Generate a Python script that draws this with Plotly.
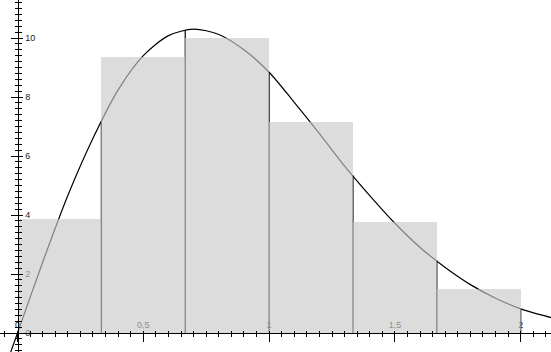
import plotly.graph_objects as go

# ---- data ----
bin_left = [0.0, 1/3, 2/3, 1.0, 4/3, 5/3]
bin_width = 1/3
bar_heights = [3.86, 9.36, 10.0, 7.15, 3.76, 1.50]

edge_x = [1/3, 2/3, 1.0, 4/3, 5/3, 2.0]
edge_heights = [7.15, 10.27, 8.84, 5.35, 2.46, 0.82]

curve_x = [-0.05, 0.0, 0.1, 0.2, 0.3, 0.4, 0.5, 0.6, 0.7, 0.8, 0.9, 1.0,
           1.1, 1.2, 1.3, 1.4, 1.5, 1.6, 1.7, 1.8, 1.9, 2.0, 2.1, 2.15]
curve_y = [-1.20, 0.0, 2.40, 4.66, 6.60, 8.24, 9.40, 10.08, 10.30, 10.12, 9.60, 8.84,
           7.82, 6.76, 5.66, 4.66, 3.72, 2.90, 2.22, 1.64, 1.18, 0.82, 0.57, 0.46]

x_range = [-0.0696, 2.1204]
y_range = [-0.644, 11.288]

W, H = 551, 352
x_axis_pos = (0 - y_range[0]) / (y_range[1] - y_range[0])
y_axis_pos = (0 - x_range[0]) / (x_range[1] - x_range[0])

# vertical segments at bin edges, from 0 up to the curve
seg_x, seg_y = [], []
for ex, eh in zip(edge_x, edge_heights):
    seg_x += [ex, ex, None]
    seg_y += [0, eh, None]

fig = go.Figure()
fig.add_trace(go.Scatter(x=seg_x, y=seg_y, mode="lines",
                         line=dict(color="black", width=1.2),
                         hoverinfo="skip", showlegend=False))
fig.add_trace(go.Scatter(x=curve_x, y=curve_y, mode="lines",
                         line=dict(color="black", width=1.2, shape="spline", smoothing=0.8),
                         hoverinfo="skip", showlegend=False))
# bars on an overlaid subplot so they sit on top of the lines (semi-transparent)
fig.add_trace(go.Bar(x=bin_left, y=bar_heights, width=[bin_width]*len(bin_left),
                     offset=0, xaxis="x3", yaxis="y3",
                     marker=dict(color="rgba(200,200,200,0.64)", line=dict(width=0)),
                     hoverinfo="skip", showlegend=False))

# dummy traces so the other overlay axes exist
for xa, ya in [("x2", "y"), ("x", "y2")]:
    fig.add_trace(go.Scatter(x=[None], y=[None], xaxis=xa, yaxis=ya,
                             mode="markers", showlegend=False, hoverinfo="skip"))

lab_font = dict(family="Liberation Sans, Arial, sans-serif", size=9, color="#1a1a1a")
transparent = "rgba(0,0,0,0)"

fig.update_layout(
    width=W, height=H,
    margin=dict(l=0, r=0, t=0, b=0),
    paper_bgcolor="white", plot_bgcolor="white",
    separators=", ",
    bargap=0,
    showlegend=False,
    # main x axis: labels only (above the axis)
    xaxis=dict(domain=[0, 1], range=x_range, anchor="free", position=x_axis_pos,
               side="top", showline=False, showgrid=False, zeroline=False,
               tick0=0, dtick=0.5, ticks="outside", ticklen=1, tickcolor=transparent,
               showticklabels=True, tickfont=lab_font, layer="below traces",
               fixedrange=True),
    # axis line with downward ticks
    xaxis2=dict(overlaying="x", range=x_range, anchor="free", position=x_axis_pos,
                side="bottom", showline=True, linecolor="black", linewidth=1,
                showgrid=False, zeroline=False,
                tick0=0, dtick=0.5, ticks="outside", ticklen=8, tickwidth=1, tickcolor="black",
                minor=dict(tick0=0, dtick=0.05, ticks="outside", ticklen=3,
                           tickwidth=1, tickcolor="black", showgrid=False),
                showticklabels=False, layer="above traces"),
    # upward short ticks (also carries the bars)
    xaxis3=dict(overlaying="x", range=x_range, anchor="free", position=x_axis_pos,
                side="top", showline=False, showgrid=False, zeroline=False,
                tick0=0, dtick=0.5, ticks="outside", ticklen=2, tickwidth=1, tickcolor="black",
                minor=dict(tick0=0, dtick=0.05, ticks="outside", ticklen=2,
                           tickwidth=1, tickcolor="black", showgrid=False),
                showticklabels=False, layer="above traces"),
    # main y axis: labels only (right of axis)
    yaxis=dict(domain=[0, 1], range=y_range, anchor="free", position=y_axis_pos,
               side="right", showline=False, showgrid=False, zeroline=False,
               tick0=0, dtick=2, ticks="outside", ticklen=5, tickcolor=transparent,
               showticklabels=True, tickfont=lab_font, layer="below traces",
               fixedrange=True),
    yaxis2=dict(overlaying="y", range=y_range, anchor="free", position=y_axis_pos,
                side="left", showline=True, linecolor="black", linewidth=1,
                showgrid=False, zeroline=False,
                tick0=0, dtick=2, ticks="outside", ticklen=7, tickwidth=1, tickcolor="black",
                minor=dict(tick0=0, dtick=0.2, ticks="outside", ticklen=3,
                           tickwidth=1, tickcolor="black", showgrid=False),
                showticklabels=False, layer="above traces"),
    yaxis3=dict(overlaying="y", range=y_range, anchor="free", position=y_axis_pos,
                side="right", showline=False, showgrid=False, zeroline=False,
                tick0=0, dtick=2, ticks="outside", ticklen=4, tickwidth=1, tickcolor="black",
                minor=dict(tick0=0, dtick=0.2, ticks="outside", ticklen=3,
                           tickwidth=1, tickcolor="black", showgrid=False),
                showticklabels=False, layer="above traces"),
)

fig.write_html("out.html", config={"displayModeBar": False})
